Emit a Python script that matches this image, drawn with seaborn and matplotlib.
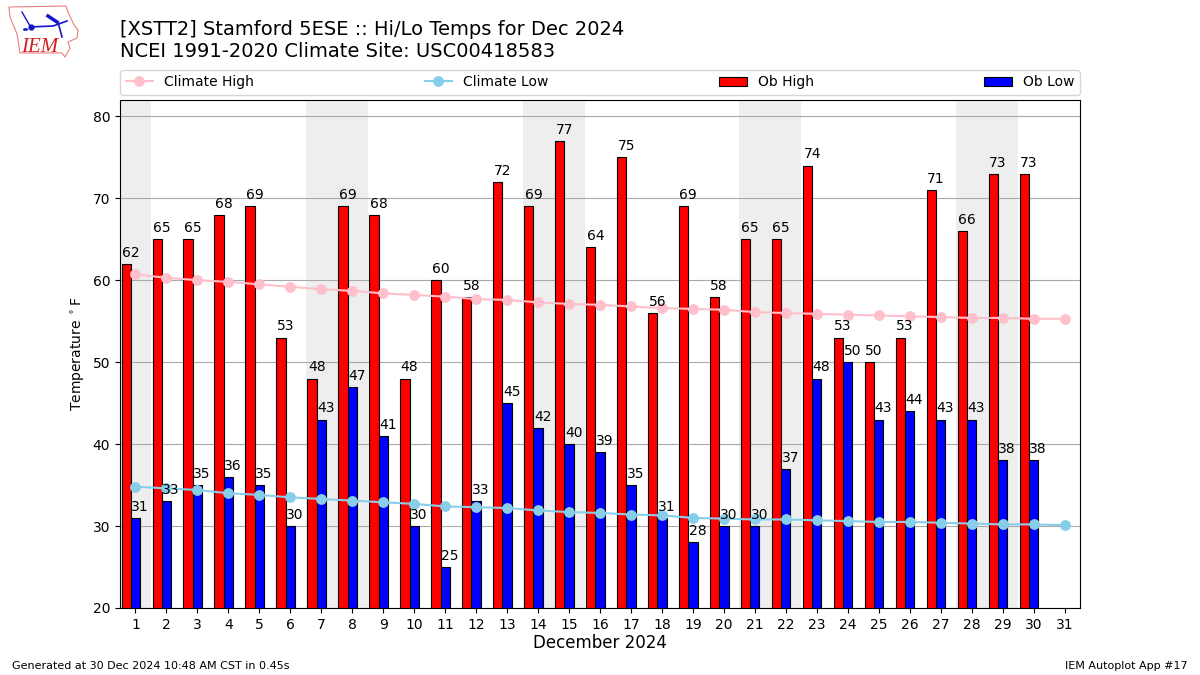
# -*- coding: utf-8 -*-
import numpy as np
import pandas as pd
import seaborn as sns
import matplotlib
matplotlib.use('Agg')
import matplotlib.pyplot as plt
from matplotlib.patches import Polygon

#%% data
days = list(range(1, 32))
ob_days = list(range(1, 31))
ob_high = [62, 65, 65, 68, 69, 53, 48, 69, 68, 48, 60, 58, 72, 69, 77, 64, 75, 56, 69, 58,
           65, 65, 74, 53, 50, 53, 71, 66, 73, 73]
ob_low = [31, 33, 35, 36, 35, 30, 43, 47, 41, 30, 25, 33, 45, 42, 40, 39, 35, 31, 28, 30,
          30, 37, 48, 50, 43, 44, 43, 43, 38, 38]
climate_high = [60.7, 60.3, 60.0, 59.8, 59.5, 59.2, 58.9, 58.7, 58.4, 58.2, 58.0, 57.7, 57.6,
                57.3, 57.1, 57.0, 56.8, 56.6, 56.5, 56.4, 56.1, 56.0, 55.9, 55.8, 55.7, 55.6,
                55.5, 55.4, 55.4, 55.3, 55.3]
climate_low = [34.8, 34.6, 34.4, 34.0, 33.8, 33.5, 33.3, 33.1, 32.9, 32.7, 32.4, 32.3, 32.2,
               31.9, 31.7, 31.6, 31.4, 31.3, 31.0, 30.9, 30.8, 30.8, 30.7, 30.6, 30.5, 30.5,
               30.4, 30.3, 30.2, 30.2, 30.1]
weekends = [(0.5, 1.5), (6.5, 8.5), (13.5, 15.5), (20.5, 22.5), (27.5, 29.5)]

df_ob = pd.DataFrame({'day': ob_days, 'high': ob_high, 'low': ob_low})
df_ob['high_x'] = df_ob['day'] - 0.3
df_clim = pd.DataFrame({'day': days, 'high': climate_high, 'low': climate_low})

#%% plot
fig = plt.figure(figsize=(12, 6.75), dpi=100)
ax = fig.add_axes([0.1, 0.0993, 0.8, 0.7526])

for start, end in weekends:
    ax.axvspan(start, end, color='#EEEEEE', lw=0, zorder=0)

sns.barplot(data=df_ob, x='high_x', y='high', native_scale=True, width=0.3, color='red',
            saturation=1, edgecolor='k', linewidth=0.8, label='Ob High', ax=ax, zorder=2)
sns.barplot(data=df_ob, x='day', y='low', native_scale=True, width=0.3, color='blue',
            saturation=1, edgecolor='k', linewidth=0.8, label='Ob Low', ax=ax, zorder=2)

sns.lineplot(data=df_clim, x='day', y='high', color='pink', marker='o', markeredgecolor='pink',
             markersize=7, label='Climate High', ax=ax, zorder=3)
sns.lineplot(data=df_clim, x='day', y='low', color='skyblue', marker='o', markeredgecolor='skyblue',
             markersize=7, label='Climate Low', ax=ax, zorder=3)

# value labels
for d, hi, lo in zip(ob_days, ob_high, ob_low):
    ax.text(d - 0.15, hi + 0.5, str(hi), ha='center', va='bottom', fontsize=10, zorder=4)
    ax.text(d + 0.15, lo + 0.5, str(lo), ha='center', va='bottom', fontsize=10, zorder=4)

ax.set_xlim(0.5, 31.5)
ax.set_ylim(20, 82)
ax.set_xticks(days)
ax.set_xticklabels([str(d) for d in days])
ax.set_yticks(range(20, 81, 10))
ax.set_axisbelow(True)
ax.grid(axis='y', color='#aaaaaa', lw=0.8, zorder=1)
ax.set_xlabel('December 2024', fontsize=12, labelpad=2)
ax.set_ylabel(r'Temperature $^\circ$F', fontsize=10)

ax.legend(loc='lower left', bbox_to_anchor=(0, 1.01, 1, 0.05), mode='expand', ncol=4,
          borderaxespad=0, fontsize=10)

# titles and footers
fig.text(0.1, 0.9475, '[XSTT2] Stamford 5ESE :: Hi/Lo Temps for Dec 2024', fontsize=14, va='baseline')
fig.text(0.1, 0.9155, 'NCEI 1991-2020 Climate Site: USC00418583', fontsize=14, va='baseline')
fig.text(0.01, 0.0085, 'Generated at 30 Dec 2024 10:48 AM CST in 0.45s', fontsize=8)
fig.text(0.99, 0.0085, 'IEM Autoplot App #17', fontsize=8, ha='right')

#%% logo, drawn in pixel coordinates
logo = fig.add_axes([0, 0, 1, 1], facecolor='none')
logo.set_xlim(0, 1200)
logo.set_ylim(675, 0)
logo.axis('off')
iowa = [(9, 7), (66, 6), (68, 12), (74, 25), (78, 30), (77, 38), (68, 42), (70, 48), (65, 57),
        (62, 53), (20, 53), (17, 34), (10, 17)]
logo.add_patch(Polygon(iowa, closed=True, fill=False, edgecolor='#e88080', lw=0.8))
logo.plot([30, 53, 67], [27, 26, 21], color='#1515cc', lw=1.2)
logo.plot([58, 62], [22, 37], color='#1515cc', lw=1.2)
logo.plot([22, 30], [12, 26], color='#1515cc', lw=1)
logo.plot([48, 57], [16, 22], color='#1515cc', lw=2.5)
logo.plot([31], [27], 'o', color='#1515cc', ms=3.5)
logo.plot([24, 26], [29, 29], '.', color='#1515cc', ms=2)
logo.text(21, 52, 'IEM', color='#d42020', fontsize=15, family='Liberation Serif', style='italic',
          va='baseline')

fig.savefig('out.png', dpi=100)
